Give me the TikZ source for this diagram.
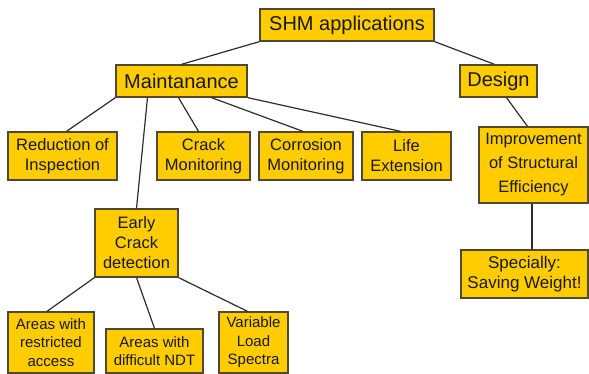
\documentclass[tikz,border=0pt]{standalone}
\usepackage{fontspec}
\setmainfont{Liberation Sans}
\definecolor{boxfill}{RGB}{255,204,0}
\definecolor{boxline}{RGB}{80,72,50}
\definecolor{linkcol}{RGB}{45,45,45}
\tikzset{
	box/.style={draw=boxline,fill=boxfill,line width=1.3pt,inner sep=0pt,align=center,text=black!90},
	big/.style={box,font=\fontsize{20}{24}\selectfont},
	mid/.style={box,font=\fontsize{16.5}{20}\selectfont},
	low/.style={box,font=\fontsize{15}{18.5}\selectfont},
	link/.style={draw=linkcol,line width=1.2pt}
}
\begin{document}
\begin{tikzpicture}[x=1pt,y=-1pt]
		\useasboundingbox (0,0) rectangle (589,374);

		\node[big,minimum width=174pt,minimum height=32pt] (shm) at (347,25) {SHM applications};
		\node[big,minimum width=131pt,minimum height=32pt] (maint) at (181.5,81) {Maintanance};
		\node[big,minimum width=77pt,minimum height=32pt] (design) at (498.5,81) {Design};

		\node[mid,minimum width=109pt,minimum height=48pt] (reduct) at (62.5,156) {Reduction of\\Inspection};
		\node[mid,minimum width=93pt,minimum height=48pt] (crackmon) at (203.5,156) {Crack\\Monitoring};
		\node[mid,minimum width=94pt,minimum height=48pt] (corrmon) at (306,156) {Corrosion\\Monitoring};
		\node[mid,minimum width=89pt,minimum height=48pt] (lifeext) at (406.5,156) {Life\\Extension};

		\node[box,font=\fontsize{16.5}{24}\selectfont,minimum width=109pt,minimum height=76pt] (improve) at (533.5,165) {Improvement\\of Structural\\Efficiency};
		\node[mid,font=\fontsize{17}{20}\selectfont,minimum width=127pt,minimum height=48pt] (weight) at (524.5,274) {Specially:\\Saving Weight!};

		\node[mid,minimum width=83pt,minimum height=68pt] (early) at (136.5,243) {Early\\Crack\\detection};

		\node[low,minimum width=86pt,minimum height=61pt] (restrict) at (51,342.5) {Areas with\\restricted\\access};
		\node[low,minimum width=97pt,minimum height=44pt] (ndt) at (154.5,351) {Areas with\\difficult NDT};
		\node[low,minimum width=69pt,minimum height=61pt] (spectra) at (253.5,342.5) {Variable\\Load\\Spectra};

		\draw[link] (shm.south west) -- (maint.north);
		\draw[link] (shm.south east) -- ([xshift=-4pt]design.north);

		\draw[link] (maint.south west) -- ([xshift=4pt]reduct.north);
		\draw[link] ([xshift=-34pt]maint.south) -- (early.north);
		\draw[link] ([xshift=-3pt]maint.south) -- ([xshift=-5pt]crackmon.north);
		\draw[link] ([xshift=30pt]maint.south) -- ([xshift=-3pt]corrmon.north);
		\draw[link] (maint.south east) -- ([xshift=-6pt]lifeext.north);

		\draw[link] ([xshift=8pt]design.south) -- ([xshift=-6pt]improve.north);
		\draw[link] ([xshift=-1.5pt]improve.south) -- ([xshift=-1.5pt]improve.south |- weight.north);

		\draw[link] (early.south west) -- ([xshift=-4pt]restrict.north);
		\draw[link] (early.south) -- (ndt.north);
		\draw[link] (early.south east) -- ([xshift=-6pt]spectra.north);
	\end{tikzpicture}
\end{document}
